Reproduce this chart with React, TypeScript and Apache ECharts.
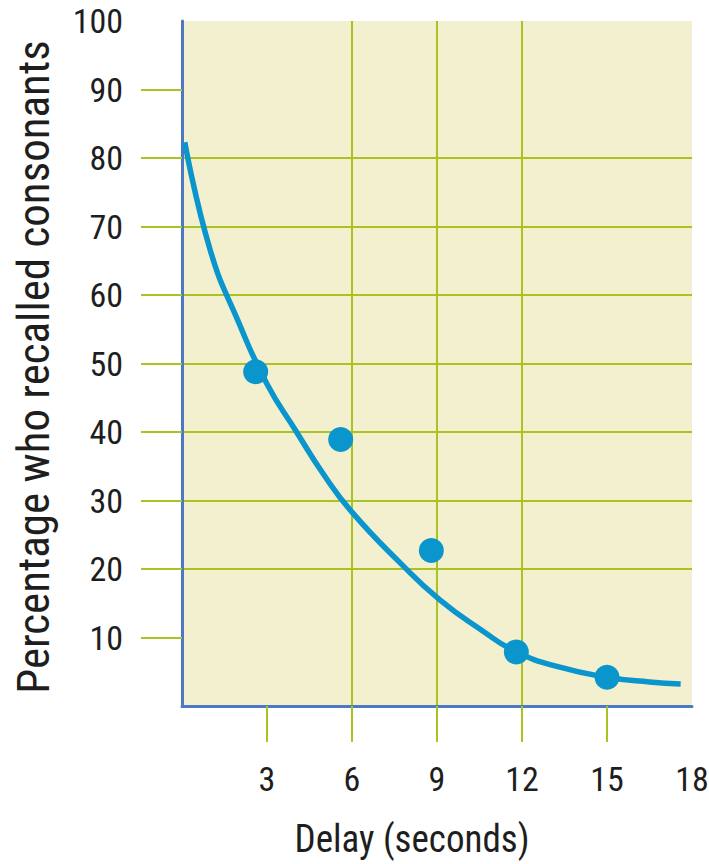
import React, { useEffect, useRef } from "react";
import * as echarts from "echarts";

// Observed data points (delay in seconds, % who recalled consonants)
const pointDelays = [2.6, 5.6, 8.8, 11.8, 15.0];
const pointRecall = [48.8, 38.9, 22.7, 7.9, 4.2];

// Fitted curve
const curveDelays = [0.1, 1.0, 2.0, 3.0, 4.0, 5.0, 6.0, 7.7, 9.1, 10.6, 11.8, 13.3, 15.0, 16.5, 17.6];
const curveRecall = [82.3, 66.5, 56.0, 47.0, 40.3, 33.8, 28.3, 20.9, 15.5, 11.0, 7.9, 5.7, 4.2, 3.5, 3.2];

const xTickLabels = [3, 6, 9, 12, 15, 18];
const yTickLabels = [10, 20, 30, 40, 50, 60, 70, 80, 90, 100];
const yTickMarks = [10, 20, 30, 40, 50, 60, 70, 80, 90];
const xTickMarks = [3, 6, 9, 12, 15];

const xTitle = "Delay (seconds)";
const yTitle = "Percentage who recalled consonants";

const FONT = "'Liberation Sans Narrow', 'Roboto Condensed', 'DejaVu Sans Condensed', sans-serif";
const GRID_GREEN = "#abc321";
const AXIS_BLUE = "#4d79c4";
const CURVE_BLUE = "#0b95cd";
const TEXT = "#1e1e1e";

function measure(text: string, size: number): number {
  const c = document.createElement("canvas").getContext("2d");
  if (!c) return text.length * size * 0.5;
  c.font = `${size}px ${FONT}`;
  return c.measureText(text).width;
}

export default function App() {
  const ref = useRef<HTMLDivElement>(null);

  useEffect(() => {
    document.body.style.margin = "0";
    const chart = echarts.init(ref.current!, null, { renderer: "svg" });

    const xTitleSize = 38;
    const yTitleSize = 45;
    const xScale = Math.min(1, 235 / measure(xTitle, xTitleSize));
    const yScale = Math.min(1, 655 / measure(yTitle, yTitleSize));

    chart.setOption({
      animation: false,
      backgroundColor: "#ffffff",
      grid: {
        left: 182,
        right: 17,
        top: 21,
        bottom: 158,
        show: true,
        backgroundColor: "#f2f0cf",
        borderWidth: 0,
        outerBoundsMode: "none",
        containLabel: false,
      },
      graphic: [
        {
          type: "text",
          x: 412,
          y: 839,
          scaleX: xScale,
          style: {
            text: xTitle,
            font: `${xTitleSize}px ${FONT}`,
            fill: TEXT,
            textAlign: "center",
            textVerticalAlign: "middle",
          },
        },
        {
          type: "text",
          x: 33,
          y: 367,
          rotation: Math.PI / 2,
          scaleX: yScale,
          style: {
            text: yTitle,
            font: `${yTitleSize}px ${FONT}`,
            fill: TEXT,
            textAlign: "center",
            textVerticalAlign: "middle",
          },
        },
      ],
      xAxis: {
        type: "value",
        min: 0,
        max: 18,
        interval: 3,
        axisLine: { show: true, onZero: false, lineStyle: { color: AXIS_BLUE, width: 3 } },
        axisTick: {
          show: true,
          customValues: xTickMarks,
          length: 36,
          lineStyle: { color: GRID_GREEN, width: 2 },
        },
        axisLabel: {
          customValues: xTickLabels,
          margin: 56,
          fontFamily: FONT,
          fontSize: 34,
          color: TEXT,
        },
        splitLine: {
          show: true,
          showMinLine: false,
          showMaxLine: false,
          lineStyle: { color: GRID_GREEN, width: 2 },
        },
      },
      yAxis: {
        type: "value",
        min: 0,
        max: 100,
        interval: 10,
        axisLine: { show: true, onZero: false, lineStyle: { color: AXIS_BLUE, width: 3 } },
        axisTick: {
          show: true,
          customValues: yTickMarks,
          length: 41,
          lineStyle: { color: GRID_GREEN, width: 2 },
        },
        axisLabel: {
          customValues: yTickLabels,
          margin: 59,
          fontFamily: FONT,
          fontSize: 34,
          color: TEXT,
        },
        splitLine: {
          show: true,
          showMinLine: false,
          showMaxLine: false,
          lineStyle: { color: GRID_GREEN, width: 2 },
        },
      },
      series: [
        {
          type: "line",
          data: curveDelays.map((d, i) => [d, curveRecall[i]]),
          smooth: 0.5,
          showSymbol: false,
          lineStyle: { color: CURVE_BLUE, width: 5.5 },
          z: 3,
        },
        {
          type: "scatter",
          data: pointDelays.map((d, i) => [d, pointRecall[i]]),
          symbolSize: 25,
          itemStyle: { color: CURVE_BLUE, opacity: 1 },
          z: 4,
        },
      ],
    });
    return () => chart.dispose();
  }, []);

  return <div ref={ref} style={{ width: 709, height: 864 }} />;
}
